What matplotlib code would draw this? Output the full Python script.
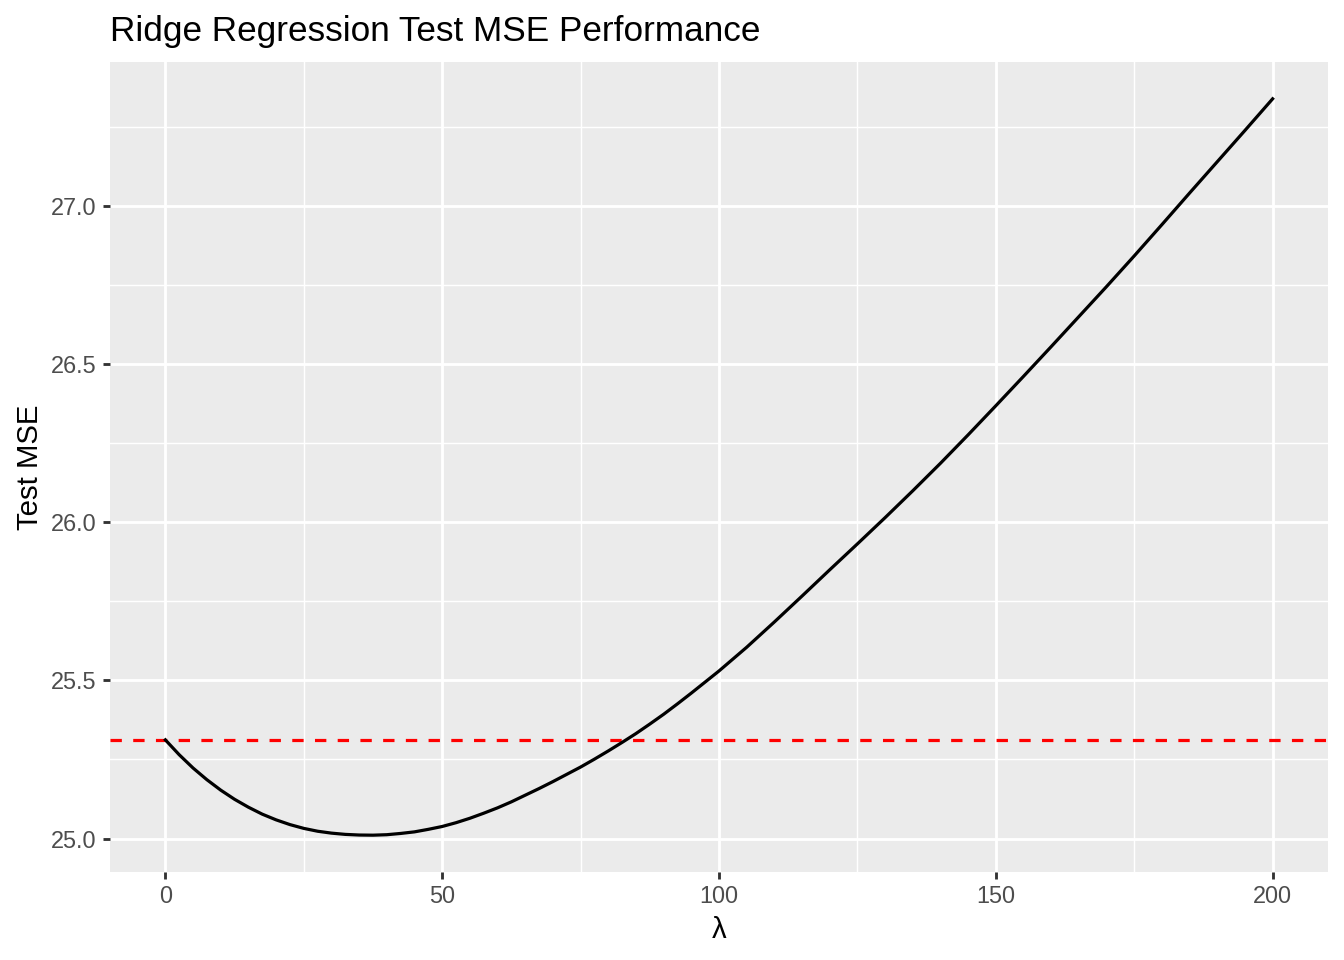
import matplotlib
matplotlib.use("Agg")
import matplotlib.pyplot as plt

# values
lam = [0, 2.5, 5, 7.5, 10, 12.5, 15, 17.5, 20, 22.5, 25, 27.5, 30, 32.5, 35, 37.5,
       40, 42.5, 45, 47.5, 50, 52.5, 55, 57.5, 60, 62.5, 65, 67.5, 70, 72.5, 75,
       77.5, 80, 82.5, 85, 87.5, 90, 92.5, 95, 97.5, 100, 105, 110, 115, 120, 125,
       130, 135, 140, 145, 150, 155, 160, 165, 170, 175, 180, 185, 190, 195, 200]
test_mse = [25.312, 25.265, 25.223, 25.186, 25.153, 25.124, 25.099, 25.077, 25.059,
            25.044, 25.032, 25.023, 25.017, 25.013, 25.011, 25.0105, 25.012, 25.016,
            25.021, 25.029, 25.038, 25.050, 25.064, 25.080, 25.097, 25.116, 25.137,
            25.158, 25.180, 25.203, 25.226, 25.251, 25.277, 25.304, 25.332, 25.362,
            25.393, 25.426, 25.460, 25.495, 25.530, 25.605, 25.685, 25.767, 25.850,
            25.932, 26.015, 26.100, 26.187, 26.277, 26.369, 26.462, 26.556, 26.651,
            26.746, 26.843, 26.942, 27.042, 27.141, 27.240, 27.340]
ols_mse = 25.311

x_ticks = [0, 50, 100, 150, 200]
x_minor = [25, 75, 125, 175]
y_ticks = [25.0, 25.5, 26.0, 26.5, 27.0]
y_minor = [25.25, 25.75, 26.25, 26.75, 27.25]

plt.rcParams["font.family"] = ["Liberation Sans", "DejaVu Sans"]

fig = plt.figure(figsize=(7, 5), dpi=192)
ax = fig.add_axes([110 / 1344, 1 - 872 / 960, 1218 / 1344, 810 / 960])
ax.set_facecolor("#EBEBEB")


# ggplot-like expansion of 5%
def expand(vals):
    lo, hi = min(vals), max(vals)
    pad = (hi - lo) * 0.05
    return lo - pad, hi + pad


ax.set_xlim(*expand(lam))
ax.set_ylim(*expand(test_mse))

for v in x_minor:
    ax.axvline(v, color="white", linewidth=0.53, zorder=0)
for v in y_minor:
    ax.axhline(v, color="white", linewidth=0.53, zorder=0)
for v in x_ticks:
    ax.axvline(v, color="white", linewidth=1.07, zorder=0)
for v in y_ticks:
    ax.axhline(v, color="white", linewidth=1.07, zorder=0)

ax.plot(lam, test_mse, color="black", linewidth=1.2, zorder=3,
        solid_joinstyle="round")
ax.axhline(ols_mse, color="#FF0000", linewidth=1.2,
           linestyle=(0, (3.55, 3.55)), zorder=2)

ax.set_xticks(x_ticks)
ax.set_xticklabels([str(v) for v in x_ticks])
ax.set_yticks(y_ticks)
ax.set_yticklabels([f"{v:.1f}" for v in y_ticks])
ax.tick_params(axis="both", length=2.75, width=1.07, color="#333333",
               labelsize=8.8, labelcolor="#4D4D4D", pad=2.2)

for s in ax.spines.values():
    s.set_visible(False)

ax.set_xlabel("λ", fontsize=11, labelpad=2.75)
ax.set_ylabel("Test MSE", fontsize=11, labelpad=2.75)
ax.set_title("Ridge Regression Test MSE Performance", fontsize=13.2,
             loc="left", pad=8)

fig.savefig("out.png", dpi=192)
